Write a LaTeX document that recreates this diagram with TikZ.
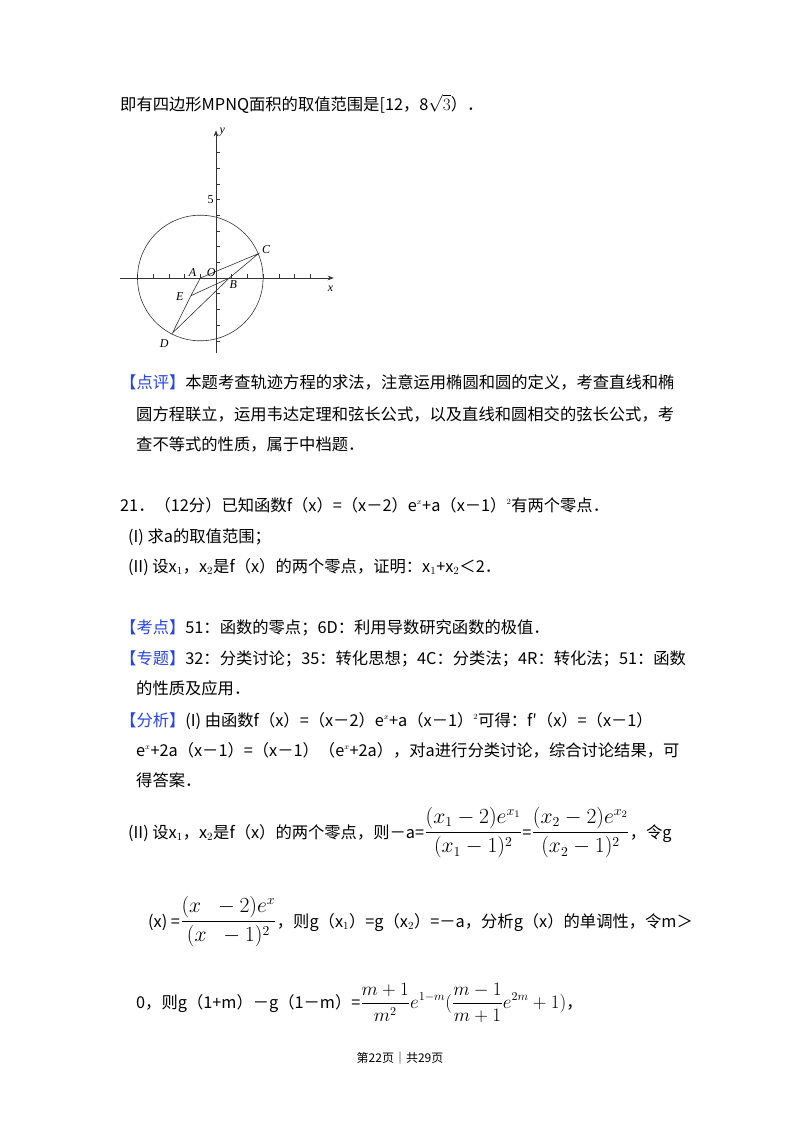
\documentclass[tikz,border=0pt]{standalone}
\usepackage{amsmath}
\usepackage{graphicx}
\usepackage{fontspec}
\setmainfont{Noto Sans CJK SC}
\newfontfamily\serif{Liberation Serif}
\usetikzlibrary{arrows.meta}
\definecolor{hb}{RGB}{40,70,230}
\newcommand{\myfrac}[2][1.25]{\raisebox{0pt}{\scalebox{#1}{$\displaystyle #2$}}}
\begin{document}
\begin{tikzpicture}[x=1pt,y=-1pt,
  tl/.style={anchor=base west,inner sep=0pt,font=\fontsize{16.3}{18}\selectfont},
  lab/.style={font=\serif\itshape\fontsize{12}{12}\selectfont,inner sep=1pt}]
\useasboundingbox[fill=white] (0,0) rectangle (800,1132);
\node[tl] (l1) at (120,110) {即有四边形MPNQ面积的取值范围是[12，8$\sqrt{3}$）．};
% figure
\begin{scope}[shift={(216,278)},x=15.7pt,y=15.7pt,line width=0.6pt,draw=black!80]
\draw[-{Stealth[length=6pt]}] (-6.1,0) -- (7.5,0);
\draw[-{Stealth[length=6pt]}] (0,-4.8) -- (0,9.4);
\foreach \i in {-5,...,6} \draw (\i,0) -- (\i,0.25);
\foreach \j in {-4,...,8} \draw (0,\j) -- (0.25,\j);
\draw (-1,0) circle (4);
\coordinate (A) at (-1,0);
\coordinate (B) at (0.85,0);
\coordinate (C) at (2.7,1.55);
\coordinate (D) at (-2.77,-3.5);
\coordinate (E) at (-1.6,-1.13);
\draw (A) -- (C) -- (B) -- (E);
\draw (A) -- (E) -- (D) -- (B);
\node[lab] (ly) at (0.4,9.3) {y};
\node[lab] (lx) at (7.3,-0.7) {x};
\node[lab] (l5) at (-0.35,5) {\upshape 5};
\node[lab] (lA) at (-1.5,0.35) {A};
\node[lab] (lO) at (-0.3,0.35) {O};
\node[lab] (lB) at (1.1,-0.45) {B};
\node[lab] (lC) at (3.2,1.8) {C};
\node[lab] (lD) at (-3.3,-4.2) {D};
\node[lab] (lE) at (-2.3,-1.2) {E};
\end{scope}
\node[tl] (p1) at (120,388) {\textcolor{hb}{【点评】}本题考查轨迹方程的求法，注意运用椭圆和圆的定义，考查直线和椭};
\node[tl] (p2) at (136,420) {圆方程联立，运用韦达定理和弦长公式，以及直线和圆相交的弦长公式，考};
\node[tl] (p3) at (136,450) {查不等式的性质，属于中档题．};
\node[tl] (q1) at (120,511) {21．（12分）已知函数f（x）=（x－2）e$^{\scriptscriptstyle x}$+a（x－1）$^{\scriptscriptstyle 2}$有两个零点．};
\node[tl] (q2) at (128,542) {(I) 求a的取值范围；};
\node[tl] (q3) at (128,572) {(II) 设x$_1$，x$_2$是f（x）的两个零点，证明：x$_1$+x$_2$＜2．};
\node[tl] (k1) at (120,633) {\textcolor{hb}{【考点】}51：函数的零点；6D：利用导数研究函数的极值．};
\node[tl] (k2) at (120,664) {\textcolor{hb}{【专题】}32：分类讨论；35：转化思想；4C：分类法；4R：转化法；51：函数};
\node[tl] (k3) at (136,694) {的性质及应用．};
\node[tl] (k4) at (120,726) {\textcolor{hb}{【分析】}(I) 由函数f（x）=（x－2）e$^{\scriptscriptstyle x}$+a（x－1）$^{\scriptscriptstyle 2}$可得：f′（x）=（x－1）};
\node[tl] (k5) at (136,756) {e$^{\scriptscriptstyle x}$+2a（x－1）=（x－1）（e$^{\scriptscriptstyle x}$+2a），对a进行分类讨论，综合讨论结果，可};
\node[tl] (k6) at (136,786) {得答案．};
\node[tl] (m1) at (128,838) {(II) 设x$_1$，x$_2$是f（x）的两个零点，则－a=\myfrac{\frac{(x_1-2)e^{x_1}}{(x_1-1)^2}}=\myfrac{\frac{(x_2-2)e^{x_2}}{(x_2-1)^2}}，令g};
\node[tl] (m2) at (148,927) {(x) =\myfrac{\frac{(x\;\;-2)e^{x}}{(x\;\;-1)^2}}，则g（x$_1$）=g（x$_2$）=－a，分析g（x）的单调性，令m＞};
\node[tl] (m3) at (136,1008) {0，则g（1+m）－g（1－m）=\myfrac[1.1]{\frac{m+1}{m^2}e^{1-m}(\frac{m-1}{m+1}e^{2m}+1)}，};
\node[anchor=base,inner sep=0pt,font=\fontsize{12}{14}\selectfont] (ft) at (400,1062) {第22页｜共29页};
\end{tikzpicture}
\end{document}
